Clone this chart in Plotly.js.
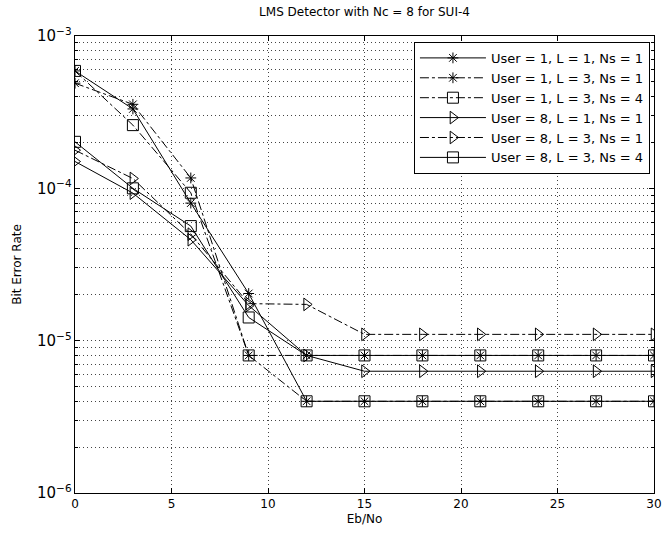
<!DOCTYPE html>
<html>
<head>
<meta charset="utf-8">
<script src="https://cdn.plot.ly/plotly-3.0.1.min.js"></script>
<style>html,body{margin:0;padding:0;background:#fff;}#chart{width:663px;height:542px;}</style>
</head>
<body>
<div id="chart"></div>
<script>
const ebno = [0, 3, 6, 9, 12, 15, 18, 21, 24, 27, 30];
const xTicks = [0, 5, 10, 15, 20, 25, 30];
const seriesNames = [
  'User = 1, L = 1, Ns = 1',
  'User = 1, L = 3, Ns = 1',
  'User = 1, L = 3, Ns = 4',
  'User = 8, L = 1, Ns = 1',
  'User = 8, L = 3, Ns = 1',
  'User = 8, L = 3, Ns = 4'
];
const berU1L1N1 = [5.9e-4, 3.32e-4, 8.0e-5, 2.04e-5, 4.0e-6, 4.0e-6, 4.0e-6, 4.0e-6, 4.0e-6, 4.0e-6, 4.0e-6];
const berU1L3N1 = [4.9e-4, 3.56e-4, 1.17e-4, 8.0e-6, 8.0e-6, 8.0e-6, 8.0e-6, 8.0e-6, 8.0e-6, 8.0e-6, 8.0e-6];
const berU1L3N4 = [5.9e-4, 2.6e-4, 9.35e-5, 8.0e-6, 4.0e-6, 4.0e-6, 4.0e-6, 4.0e-6, 4.0e-6, 4.0e-6, 4.0e-6];
const berU8L1N1 = [1.5e-4, 9.3e-5, 4.6e-5, 1.7e-5, 8.0e-6, 6.3e-6, 6.3e-6, 6.3e-6, 6.3e-6, 6.3e-6, 6.3e-6];
const berU8L3N1 = [1.78e-4, 1.16e-4, 5.0e-5, 1.75e-5, 1.73e-5, 1.1e-5, 1.1e-5, 1.1e-5, 1.1e-5, 1.1e-5, 1.1e-5];
const berU8L3N4 = [2.02e-4, 1.0e-4, 5.65e-5, 1.42e-5, 8.0e-6, 8.0e-6, 8.0e-6, 8.0e-6, 8.0e-6, 8.0e-6, 8.0e-6];

const seriesValues = [berU1L1N1, berU1L3N1, berU1L3N4, berU8L1N1, berU8L3N1, berU8L3N4];
const seriesDash = ['solid', 'dashdot', 'dashdot', 'solid', 'dashdot', 'solid'];
const seriesSymbol = ['asterisk-open', 'asterisk-open', 'square-open', 'triangle-right-open', 'triangle-right-open', 'square-open'];
const seriesSize = [9, 9, 11, 11, 11, 11];

const FONT = 'DejaVu Sans, Arial, sans-serif';
const GRIDDASH = '1px,3px';
const GRIDCOLOR = '#444';

const traces = seriesValues.map((vals, i) => ({
  x: ebno,
  y: vals,
  name: seriesNames[i],
  type: 'scatter',
  mode: 'lines+markers',
  line: {color: '#000', width: 1, dash: seriesDash[i]},
  marker: {symbol: seriesSymbol[i], size: seriesSize[i], color: '#000', line: {color: '#000', width: 1}}
}));

const layout = {
  width: 663,
  height: 542,
  paper_bgcolor: '#fff',
  plot_bgcolor: '#fff',
  margin: {l: 75, r: 9, t: 36, b: 49, pad: 0},
  font: {family: FONT, size: 12, color: '#000'},
  title: {text: 'LMS Detector with Nc = 8 for SUI-4', font: {family: FONT, size: 12, color: '#000'},
          x: 0.5, xref: 'paper', xanchor: 'center', y: 1 - 12 / 542, yref: 'container', yanchor: 'middle'},
  xaxis: {
    range: [0, 30], tickmode: 'array', tickvals: xTicks, ticktext: xTicks.map(String),
    showline: true, linecolor: '#000', linewidth: 1, mirror: 'ticks',
    ticks: 'inside', ticklen: 5, tickcolor: '#000',
    showgrid: true, gridcolor: GRIDCOLOR, gridwidth: 1, griddash: GRIDDASH,
    zeroline: false,
    tickfont: {family: FONT, size: 12, color: '#000'},
    title: {text: 'Eb/No', font: {family: FONT, size: 12, color: '#000'}, standoff: 4}
  },
  yaxis: {
    type: 'log', range: [-6, -3], dtick: 1,
    exponentformat: 'power', showexponent: 'all',
    showline: true, linecolor: '#000', linewidth: 1, mirror: 'ticks',
    ticks: 'inside', ticklen: 5, tickcolor: '#000',
    showgrid: true, gridcolor: GRIDCOLOR, gridwidth: 1, griddash: GRIDDASH,
    minor: {dtick: 'D1', ticks: 'inside', ticklen: 3, tickcolor: '#000', showgrid: true, gridcolor: GRIDCOLOR, gridwidth: 1, griddash: GRIDDASH},
    zeroline: false,
    tickfont: {family: FONT, size: 12, color: '#000'},
    title: {text: 'Bit Error Rate', font: {family: FONT, size: 12, color: '#000'}, standoff: 12}
  },
  legend: {
    x: 0.993, xanchor: 'right', y: 0.987, yanchor: 'top',
    bgcolor: '#fff', bordercolor: '#000', borderwidth: 1,
    font: {family: FONT, size: 13, color: '#000'},
    itemwidth: 66, tracegroupgap: 0
  },
  showlegend: true
};

Plotly.newPlot('chart', traces, layout, {displayModeBar: false, staticPlot: true});
</script>
</body>
</html>
